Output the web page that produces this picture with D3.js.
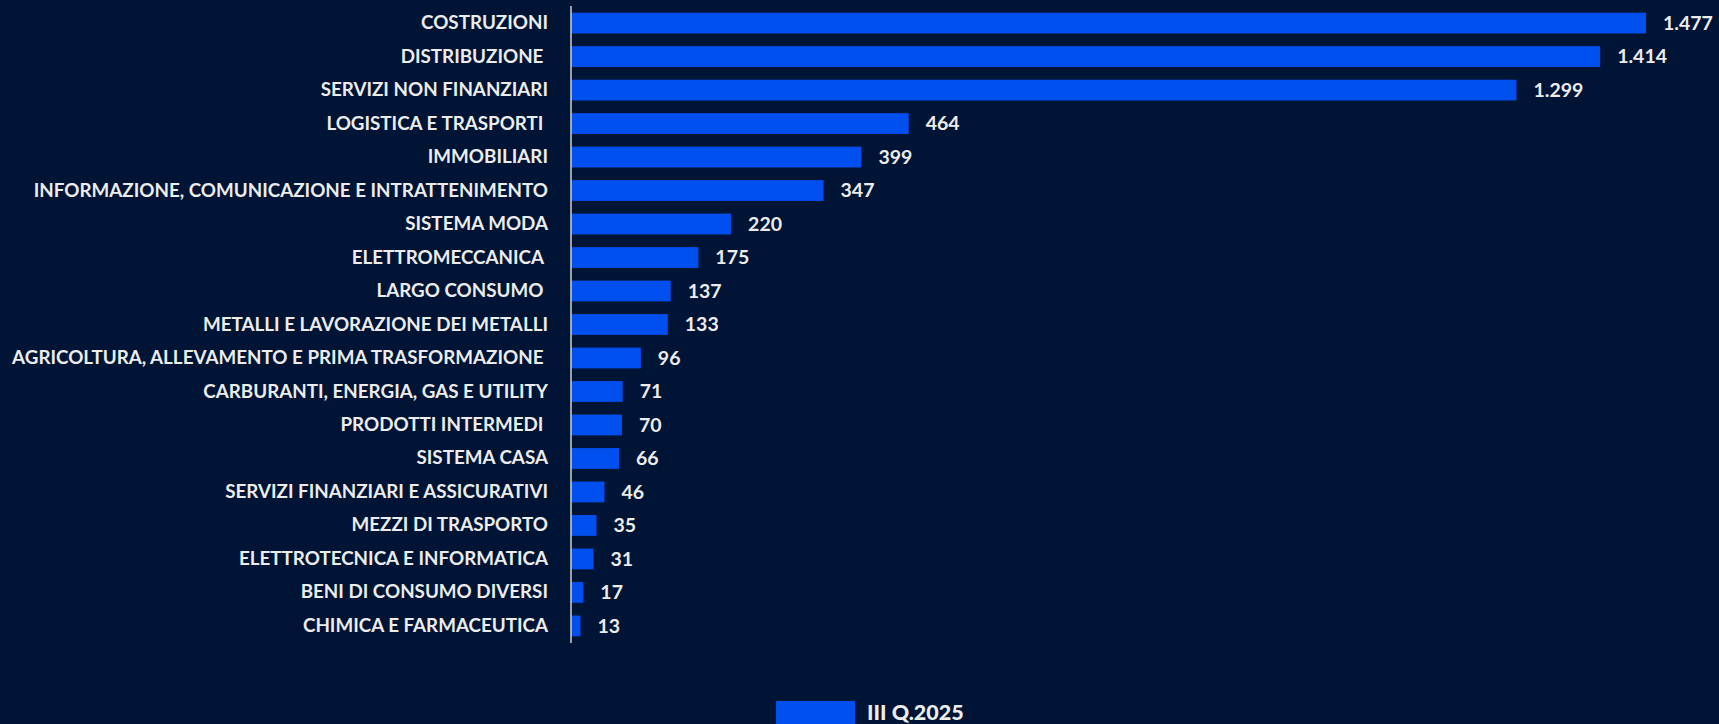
<!DOCTYPE html>
<html>
<head>
<meta charset="utf-8">
<script src="https://cdn.jsdelivr.net/npm/d3@7.9.0/dist/d3.min.js"></script>
<style>
  html, body { margin: 0; padding: 0; background: #001435; overflow: hidden; }
  svg { display: block; }
  text { font-family: Lato, "Open Sans", sans-serif; fill: #ececec; white-space: pre; }
</style>
</head>
<body>
<svg id="chart" width="1719" height="724"></svg>
<script>
// sectors, top to bottom (some labels keep a trailing space as in the source)
const categories = [
  'COSTRUZIONI', 'DISTRIBUZIONE ', 'SERVIZI NON FINANZIARI', 'LOGISTICA E TRASPORTI ',
  'IMMOBILIARI', 'INFORMAZIONE, COMUNICAZIONE E INTRATTENIMENTO', 'SISTEMA MODA',
  'ELETTROMECCANICA ', 'LARGO CONSUMO ', 'METALLI E LAVORAZIONE DEI METALLI',
  'AGRICOLTURA, ALLEVAMENTO E PRIMA TRASFORMAZIONE ', 'CARBURANTI, ENERGIA, GAS E UTILITY',
  'PRODOTTI INTERMEDI ', 'SISTEMA CASA', 'SERVIZI FINANZIARI E ASSICURATIVI',
  'MEZZI DI TRASPORTO', 'ELETTROTECNICA E INFORMATICA', 'BENI DI CONSUMO DIVERSI',
  'CHIMICA E FARMACEUTICA'
];
const values = [1477, 1414, 1299, 464, 399, 347, 220, 175, 137, 133, 96, 71, 70, 66, 46, 35, 31, 17, 13];
const seriesName = 'III Q.2025';

const barColor = '#0050f0';
const svg = d3.select('#chart');

const it = d3.formatLocale({ decimal: ',', thousands: '.', grouping: [3], currency: ['€', ''] });
const fmt = it.format(',d');

const x = d3.scaleLinear().domain([0, d3.max(values)]).range([571, 1646]);
const y = d3.scaleBand().domain(categories).range([6, 643]).paddingInner(0.38).paddingOuter(0.2);

// bars
svg.append('g').selectAll('rect')
  .data(values)
  .join('rect')
  .attr('x', x(0))
  .attr('y', (d, i) => y(categories[i]))
  .attr('width', d => x(d) - x(0))
  .attr('height', y.bandwidth())
  .attr('fill', barColor);

// value labels
svg.append('g').selectAll('text')
  .data(values)
  .join('text')
  .attr('x', d => x(d) + 17)
  .attr('y', (d, i) => y(categories[i]) + y.bandwidth() / 2)
  .attr('dy', '0.35em')
  .attr('font-size', 19.5)
  .attr('font-weight', 700)
  .text(d => fmt(d));

// category axis
const yAxis = svg.append('g')
  .attr('transform', `translate(${x(0)},0)`)
  .call(d3.axisLeft(y).tickSize(0).tickPadding(23));
yAxis.select('.domain').attr('stroke', '#d0d0d0').attr('stroke-width', 1.5).attr('d', 'M0,6V643');
yAxis.selectAll('text')
  .attr('font-size', 18.8)
  .attr('font-weight', 700)
  .style('font-family', 'Lato, "Open Sans", sans-serif')
  .attr('fill', '#ececec');

// legend
const legend = svg.append('g').attr('transform', 'translate(776,701)');
legend.append('rect').attr('width', 79).attr('height', 23).attr('fill', barColor);
legend.append('text')
  .attr('x', 91).attr('y', 11)
  .attr('dy', '0.35em')
  .attr('font-size', 21.5)
  .attr('font-weight', 900)
  .text(seriesName);
</script>
</body>
</html>
